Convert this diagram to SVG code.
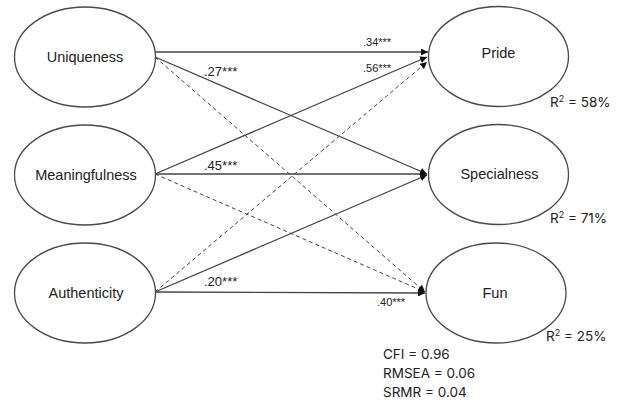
<svg xmlns="http://www.w3.org/2000/svg" width="618" height="403" viewBox="0 0 618 403">
<defs>
<style>
.node ellipse{fill:#fff;stroke:#4a4a4a;stroke-width:1.3}
.node text{font-family:"Liberation Sans",Arial,sans-serif;font-size:14.5px;fill:#222;text-anchor:middle;dominant-baseline:central}
.conn line{stroke:#444;stroke-width:1.3;marker-end:url(#ah)}
.conn line.dash{stroke-dasharray:4 3;stroke-width:1}
.lbl{font-family:"Liberation Sans",Arial,sans-serif;fill:#222;dominant-baseline:central}
.stat{font-family:"Inter","Liberation Sans",sans-serif;font-size:13.5px;fill:#222;dominant-baseline:central}
</style>
<marker id="ah" viewBox="0 0 10 10" refX="10" refY="5" markerWidth="7" markerHeight="7" markerUnits="userSpaceOnUse" orient="auto">
<path d="M0,0 L10,5 L0,10 z" fill="#111"/>
</marker>
</defs>
<rect width="618" height="403" fill="#fff"/>
<g id="connectors" class="conn">
<line x1="155" y1="52" x2="428" y2="52"/>
<line x1="155" y1="57" x2="427" y2="174"/>
<line class="dash" x1="155" y1="57" x2="425" y2="292"/>
<line x1="155" y1="174" x2="427" y2="57"/>
<line x1="155" y1="174" x2="427" y2="174"/>
<line class="dash" x1="155" y1="174" x2="425" y2="292"/>
<line class="dash" x1="155" y1="292" x2="427" y2="62"/>
<line x1="155" y1="292" x2="427" y2="175"/>
<line x1="155" y1="292" x2="425" y2="293"/>
</g>
<g id="uniqueness" class="node"><ellipse cx="85" cy="57" rx="70.5" ry="50"/><text x="85" y="57">Uniqueness</text></g>
<g id="meaningfulness" class="node"><ellipse cx="85" cy="175" rx="70.5" ry="50"/><text x="86" y="175">Meaningfulness</text></g>
<g id="authenticity" class="node"><ellipse cx="85" cy="293" rx="70.5" ry="50"/><text x="86" y="293">Authenticity</text></g>
<g id="pride" class="node"><ellipse cx="498.5" cy="56.5" rx="70" ry="50"/><text x="498.5" y="53">Pride</text></g>
<g id="specialness" class="node"><ellipse cx="498.5" cy="174.5" rx="70" ry="50"/><text x="499.5" y="174">Specialness</text></g>
<g id="fun" class="node"><ellipse cx="496" cy="293" rx="70" ry="50"/><text x="495" y="293">Fun</text></g>
<g id="labels">
<text class="lbl" x="363" y="42" font-size="11">.34***</text>
<text class="lbl" x="363" y="68" font-size="11">.56***</text>
<text class="lbl" x="204" y="71" font-size="13">.27***</text>
<text class="lbl" x="204" y="165" font-size="13">.45***</text>
<text class="lbl" x="204" y="281" font-size="13">.20***</text>
<text class="lbl" x="377" y="302" font-size="11">.40***</text>
<text class="stat" x="550" y="102">R<tspan font-size="9" dy="-4">2</tspan><tspan dy="4"> = 58%</tspan></text>
<text class="stat" x="550" y="218">R<tspan font-size="9" dy="-4">2</tspan><tspan dy="4"> = 71%</tspan></text>
<text class="stat" x="546" y="336">R<tspan font-size="9" dy="-4">2</tspan><tspan dy="4"> = 25%</tspan></text>
<text class="stat" x="383" y="354">CFI = 0.96</text>
<text class="stat" x="383" y="373">RMSEA = 0.06</text>
<text class="stat" x="383" y="392">SRMR = 0.04</text>
</g>
</svg>
